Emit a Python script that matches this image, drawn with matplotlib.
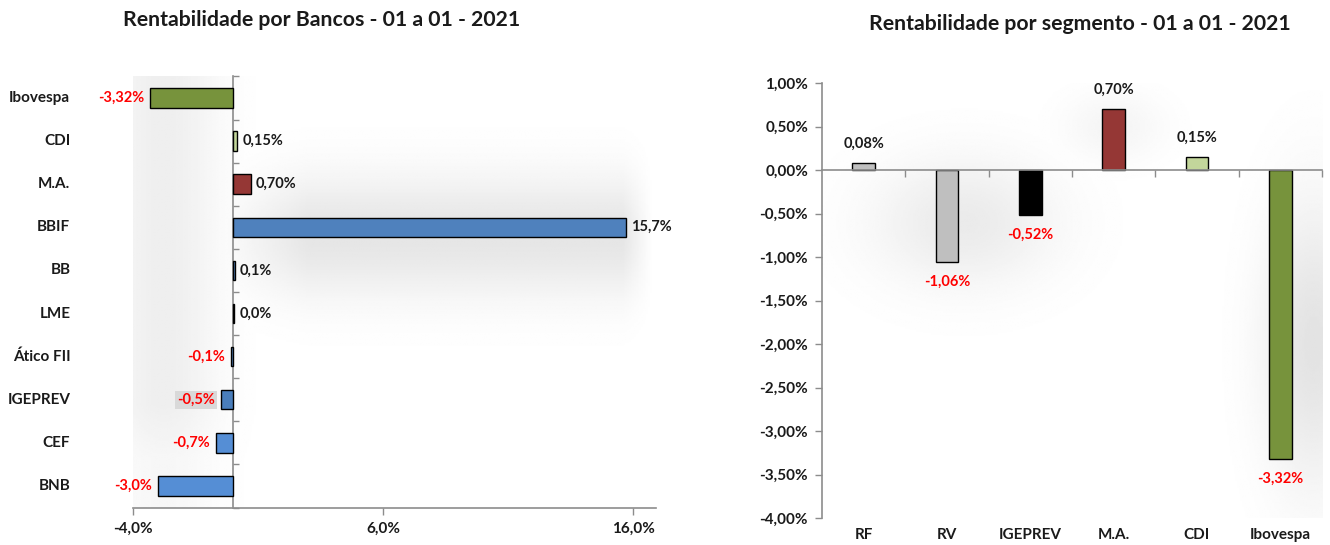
import numpy as np
import matplotlib
matplotlib.use("Agg")
import matplotlib.pyplot as plt
from matplotlib.ticker import FuncFormatter
from matplotlib.transforms import blended_transform_factory

plt.rcParams['font.family'] = ['Lato', 'DejaVu Sans']
plt.rcParams['font.weight'] = 'bold'

# --- data: left chart (por bancos) ---
bancos = ["Ibovespa", "CDI", "M.A.", "BBIF", "BB", "LME", "Ático FII", "IGEPREV", "CEF", "BNB"]
bancos_valores = [-3.32, 0.15, 0.70, 15.7, 0.06, 0.03, -0.08, -0.5, -0.7, -3.0]
bancos_rotulos = ["-3,32%", "0,15%", "0,70%", "15,7%", "0,1%", "0,0%", "-0,1%", "-0,5%", "-0,7%", "-3,0%"]
bancos_cores = ["#77933C", "#C3D69B", "#953735", "#4F81BD", "#4F81BD", "#4F81BD",
                "#4F81BD", "#4A7EBB", "#558ED5", "#558ED5"]
bancos_xticks = [-4, 6, 16]

# --- data: right chart (por segmento) ---
segmentos = ["RF", "RV", "IGEPREV", "M.A.", "CDI", "Ibovespa"]
segmentos_valores = [0.08, -1.06, -0.52, 0.70, 0.15, -3.32]
segmentos_cores = ["#BFBFBF", "#BFBFBF", "#000000", "#953735", "#C3D69B", "#77933C"]
segmentos_yticks = [1.0, 0.5, 0.0, -0.5, -1.0, -1.5, -2.0, -2.5, -3.0, -3.5, -4.0]

TXT = "#1A1A1A"
RED = "#FF0000"
AXC = "#8C8C8C"
FS_LAB = 10.5   # data labels
FS_TICK = 11    # axis / category labels
FS_TIT = 15.3


def pct_br(v, dec):
    return (f"{v:.{dec}f}%").replace(".", ",")


def shade(ax, xlim, ylim, func):
    xs = np.linspace(xlim[0], xlim[1], 300)
    ys = np.linspace(ylim[0], ylim[1], 300)
    X, Y = np.meshgrid(xs, ys)
    Z = 1 - np.clip(func(X, Y), 0, 0.2)
    ax.imshow(Z, cmap="gray", vmin=0, vmax=1, origin="lower", aspect="auto",
              extent=(xlim[0], xlim[1], ylim[0], ylim[1]), zorder=0, interpolation="bilinear")


fig = plt.figure(figsize=(13.3, 5.45), dpi=100)

# ---------------- left chart ----------------
ax1 = fig.add_axes([0.1, 0.0688, 0.3929, 0.791])
ypos = np.arange(len(bancos))
xl = (-4, 16.9)
yl = (-0.5, len(bancos) - 0.5)


def sombra_bancos(X, Y):
    fade = np.clip((16.8 - X) / 1.2, 0, 1) * np.clip((X + 1.0) / 4.0, 0, 1)
    band = 0.10 * np.exp(-((Y - 3.2) / 1.4) ** 2) * fade
    left = 0.065 * np.exp(-((X + 2.8) / 2.2) ** 2) * np.clip((9.6 - Y) / 2.5, 0.5, 1)
    return np.maximum(band, left)


shade(ax1, xl, yl, sombra_bancos)
ax1.barh(ypos, bancos_valores, height=0.45, color=bancos_cores, edgecolor="black",
         linewidth=1.0, zorder=3)
ax1.set_xlim(*xl)
ax1.set_ylim(yl[1], yl[0])

for y, v, lab in zip(ypos, bancos_valores, bancos_rotulos):
    if v >= 0:
        t = ax1.annotate(lab, (v, y), xytext=(4, 0), textcoords="offset points",
                         ha="left", va="center", fontsize=FS_LAB, color=TXT, zorder=4)
    else:
        t = ax1.annotate(lab, (v, y), xytext=(-4, 0), textcoords="offset points",
                         ha="right", va="center", fontsize=FS_LAB, color=RED, zorder=4)
    if bancos[y] == "IGEPREV":
        t.set_bbox(dict(facecolor="#D9D9D9", edgecolor="none", pad=1.5))

trans1 = blended_transform_factory(ax1.transAxes, ax1.transData)
for y, nome in zip(ypos, bancos):
    ax1.text(-0.12, y, nome, transform=trans1, ha="right", va="center",
             fontsize=FS_TICK, color=TXT)

ax1.spines["top"].set_visible(False)
ax1.spines["right"].set_visible(False)
ax1.spines["left"].set_position(("data", 0))
ax1.spines["left"].set_color(AXC)
ax1.spines["bottom"].set_color(AXC)
ax1.spines["left"].set_linewidth(1.2)
ax1.spines["bottom"].set_linewidth(1.2)
ax1.set_yticks(np.arange(-0.5, len(bancos), 1.0))
ax1.set_yticklabels([])
ax1.tick_params(axis="y", direction="in", length=4, color=AXC, width=1)
ax1.set_xticks(bancos_xticks)
ax1.xaxis.set_major_formatter(FuncFormatter(lambda v, p: pct_br(v, 1)))
ax1.tick_params(axis="x", direction="out", length=5, color=AXC, width=1,
                labelsize=FS_TICK, labelcolor=TXT, pad=5)
ax1.spines["bottom"].set_zorder(5)
ax1.spines["left"].set_zorder(2.5)

fig.text(0.242, 0.963, "Rentabilidade por Bancos - 01 a 01 - 2021", ha="center", va="center",
         fontsize=FS_TIT, fontweight="bold", color=TXT)

# ---------------- right chart ----------------
ax2 = fig.add_axes([0.618, 0.0495, 0.376, 0.798])
xpos = np.arange(len(segmentos))
xl2 = (-0.5, len(segmentos) - 0.5)
yl2 = (-4.0, 1.0)


def sombra_segmentos(X, Y):
    b1 = 0.08 * np.exp(-((X - 1.2) / 1.1) ** 2 - ((Y + 0.6) / 0.75) ** 2)
    b2 = 0.04 * np.exp(-((X - 3.0) / 0.6) ** 2 - ((Y - 0.5) / 0.4) ** 2)
    b3 = 0.11 * np.exp(-((X - 5.4) / 0.6) ** 2 - ((Y + 2.0) / 1.6) ** 2)
    return np.maximum(np.maximum(b1, b2), b3)


shade(ax2, xl2, yl2, sombra_segmentos)
ax2.bar(xpos, segmentos_valores, width=0.27, color=segmentos_cores, edgecolor="black",
        linewidth=1.0, zorder=3)
ax2.set_xlim(*xl2)
ax2.set_ylim(*yl2)

for x, v in zip(xpos, segmentos_valores):
    if v >= 0:
        ax2.annotate(pct_br(v, 2), (x, v), xytext=(0, 9), textcoords="offset points",
                     ha="center", va="bottom", fontsize=FS_LAB, color=TXT, zorder=4)
    else:
        ax2.annotate(pct_br(v, 2), (x, v), xytext=(0, -9), textcoords="offset points",
                     ha="center", va="top", fontsize=FS_LAB, color=RED, zorder=4)

trans2 = blended_transform_factory(ax2.transData, ax2.transAxes)
for x, nome in zip(xpos, segmentos):
    ax2.text(x, -0.04, nome, transform=trans2, ha="center", va="center",
             fontsize=FS_TICK, color=TXT)

ax2.spines["top"].set_visible(False)
ax2.spines["right"].set_visible(False)
ax2.spines["bottom"].set_position(("data", 0))
for s in ("left", "bottom"):
    ax2.spines[s].set_color(AXC)
    ax2.spines[s].set_linewidth(1.2)
    ax2.spines[s].set_zorder(5)
ax2.set_yticks(segmentos_yticks)
ax2.yaxis.set_major_formatter(FuncFormatter(lambda v, p: pct_br(v, 2)))
ax2.tick_params(axis="y", direction="out", length=5, color=AXC, width=1,
                labelsize=FS_TICK, labelcolor=TXT, pad=5)
ax2.set_xticks(np.arange(0.5, len(segmentos), 1.0))
ax2.set_xticklabels([])
ax2.tick_params(axis="x", direction="out", length=5, color=AXC, width=1)

fig.text(0.812, 0.956, "Rentabilidade por segmento - 01 a 01 - 2021", ha="center", va="center",
         fontsize=FS_TIT, fontweight="bold", color=TXT)

fig.savefig("out.png", dpi=100, facecolor="white")
